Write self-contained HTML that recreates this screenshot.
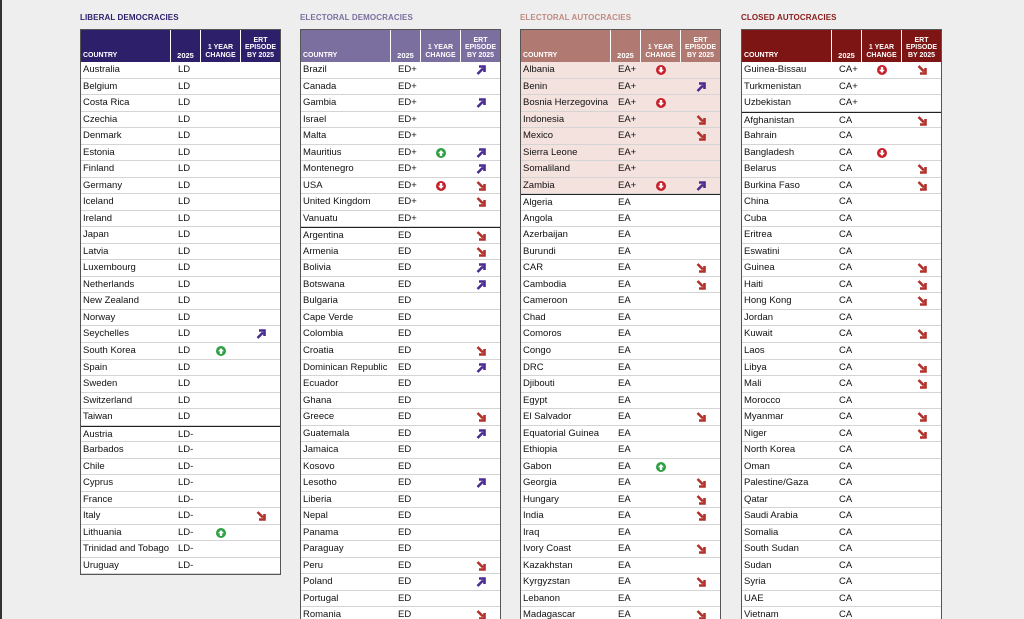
<!DOCTYPE html>
<html style="overflow:hidden;height:619px"><head><meta charset="utf-8"><style>
body{margin:0;width:1024px;height:619px;background:#efeeee;overflow:hidden;position:relative;font-family:"Liberation Sans",sans-serif}
.edge{position:absolute;left:0;top:0;width:2px;height:619px;background:#333}
.title{position:absolute;top:13px;font-size:8px;font-weight:bold;letter-spacing:0.1px}
.tbl{position:absolute;top:29px;width:199px;border:1px solid #555;background:#fff;height:700px;overflow:hidden}
.hd{position:absolute;top:0;height:32px;color:#fff;font-weight:bold;font-size:7px;line-height:7.5px;text-align:center;box-sizing:border-box;border-right:1px solid #fff}
.hd span{position:absolute;bottom:3px;left:0;right:0}
.row{position:absolute;left:0;width:199px;height:16.53px;border-bottom:1px solid #d4d4d4;box-sizing:border-box;font-size:9.5px;color:#111;line-height:16px}
.sep{border-top:1.5px solid #222}
.c1{position:absolute;left:2px}
.c2{position:absolute;left:97px}
.ic{position:absolute;top:3px}
</style></head><body>
<div class="edge"></div>
<div id="root"></div>
<script>
const U='<svg width="10" height="10" viewBox="0 0 10 10"><circle cx="5" cy="5" r="5" fill="#2ea043"/><path d="M5 2 L8 5.2 H6.2 V8 H3.8 V5.2 H2 Z" fill="#fff"/></svg>';
const D='<svg width="10" height="10" viewBox="0 0 10 10"><circle cx="5" cy="5" r="5" fill="#c8202a"/><path d="M5 8 L8 4.8 H6.2 V2 H3.8 V4.8 H2 Z" fill="#fff"/></svg>';
const P='<svg width="10" height="10" viewBox="0 0 10 10"><path d="M1.5 9 L7 3.5 M3 1.5 H8.5 V7" stroke="#4b2c91" stroke-width="2.6" fill="none"/></svg>';
const R='<svg width="10" height="10" viewBox="0 0 10 10"><path d="M1.5 1 L7 6.5 M8.5 3 V8.5 H3" stroke="#b2322b" stroke-width="2.6" fill="none"/></svg>';
const tables=[
{x:80,title:'LIBERAL DEMOCRACIES',tc:'#2e1f6b',hc:'#2e1f6b',shade:'',groups:[
['LD',['Australia','Belgium','Costa Rica','Czechia','Denmark','Estonia','Finland','Germany','Iceland','Ireland','Japan','Latvia','Luxembourg','Netherlands','New Zealand','Norway','Seychelles||P','South Korea|U|','Spain','Sweden','Switzerland','Taiwan']],
['LD-',['Austria','Barbados','Chile','Cyprus','France','Italy||R','Lithuania|U|','Trinidad and Tobago','Uruguay']]],h:30},
{x:300,title:'ELECTORAL DEMOCRACIES',tc:'#7b6fa0',hc:'#7b6fa0',shade:'',groups:[
['ED+',['Brazil||P','Canada','Gambia||P','Israel','Malta','Mauritius|U|P','Montenegro||P','USA|D|R','United Kingdom||R','Vanuatu']],
['ED',['Argentina||R','Armenia||R','Bolivia||P','Botswana||P','Bulgaria','Cape Verde','Colombia','Croatia||R','Dominican Republic||P','Ecuador','Ghana','Greece||R','Guatemala||P','Jamaica','Kosovo','Lesotho||P','Liberia','Nepal','Panama','Paraguay','Peru||R','Poland||P','Portugal','Romania||R']]]},
{x:520,title:'ELECTORAL AUTOCRACIES',tc:'#c08a82',hc:'#b07a72',shade:'#f4e2df',groups:[
['EA+',['Albania|D|','Benin||P','Bosnia Herzegovina|D|','Indonesia||R','Mexico||R','Sierra Leone','Somaliland','Zambia|D|P']],
['EA',['Algeria','Angola','Azerbaijan','Burundi','CAR||R','Cambodia||R','Cameroon','Chad','Comoros','Congo','DRC','Djibouti','Egypt','El Salvador||R','Equatorial Guinea','Ethiopia','Gabon|U|','Georgia||R','Hungary||R','India||R','Iraq','Ivory Coast||R','Kazakhstan','Kyrgyzstan||R','Lebanon','Madagascar||R']]]},
{x:741,title:'CLOSED AUTOCRACIES',tc:'#8a1c1c',hc:'#7d1515',shade:'',groups:[
['CA+',['Guinea-Bissau|D|R','Turkmenistan','Uzbekistan']],
['CA',['Afghanistan||R','Bahrain','Bangladesh|D|','Belarus||R','Burkina Faso||R','China','Cuba','Eritrea','Eswatini','Guinea||R','Haiti||R','Hong Kong||R','Jordan','Kuwait||R','Laos','Libya||R','Mali||R','Morocco','Myanmar||R','Niger||R','North Korea','Oman','Palestine/Gaza','Qatar','Saudi Arabia','Somalia','South Sudan','Sudan','Syria','UAE','Vietnam']]]}
];
const I={U,D,P,R,'':''};
let h='';
for(const t of tables){
 h+=`<div class="title" style="left:${t.x}px;color:${t.tc}">${t.title}</div>`;
 let n=t.groups[0][1].length+t.groups[1][1].length;
 let ht=t.h?(32+n*16.53):620;
 h+=`<div class="tbl" style="left:${t.x}px;height:${ht}px">`;
 const cols=[[0,90,'<span style="text-align:left;left:2px">COUNTRY</span>'],[90,30,'<span style="font-size:7.5px">2025</span>'],[120,40,'<span>1 YEAR<br>CHANGE</span>'],[160,39,'<span>ERT<br>EPISODE<br>BY 2025</span>']];
 for(const c of cols)h+=`<div class="hd" style="left:${c[0]}px;width:${c[1]}px;background:${t.hc};${c[0]==160?'border-right:none':''}">${c[2]}</div>`;
 let y=32;
 t.groups.forEach((g,gi)=>{
  g[1].forEach((s,i)=>{
   const [name,ch,er]=(s+'||').split('|');
   const bg=(gi==0&&t.shade)?`background:${t.shade};`:'';
   h+=`<div class="row${gi==1&&i==0?' sep':''}" style="top:${y}px;${bg}"><span class="c1">${name}</span><span class="c2">${g[0]}</span>`;
   if(ch)h+=`<span class="ic" style="left:135px">${I[ch]}</span>`;
   if(er)h+=`<span class="ic" style="left:175px">${I[er]}</span>`;
   h+='</div>';
   y+=16.53;
  });
 });
 h+='</div>';
}
document.getElementById('root').innerHTML=h;
</script>
</body></html>
